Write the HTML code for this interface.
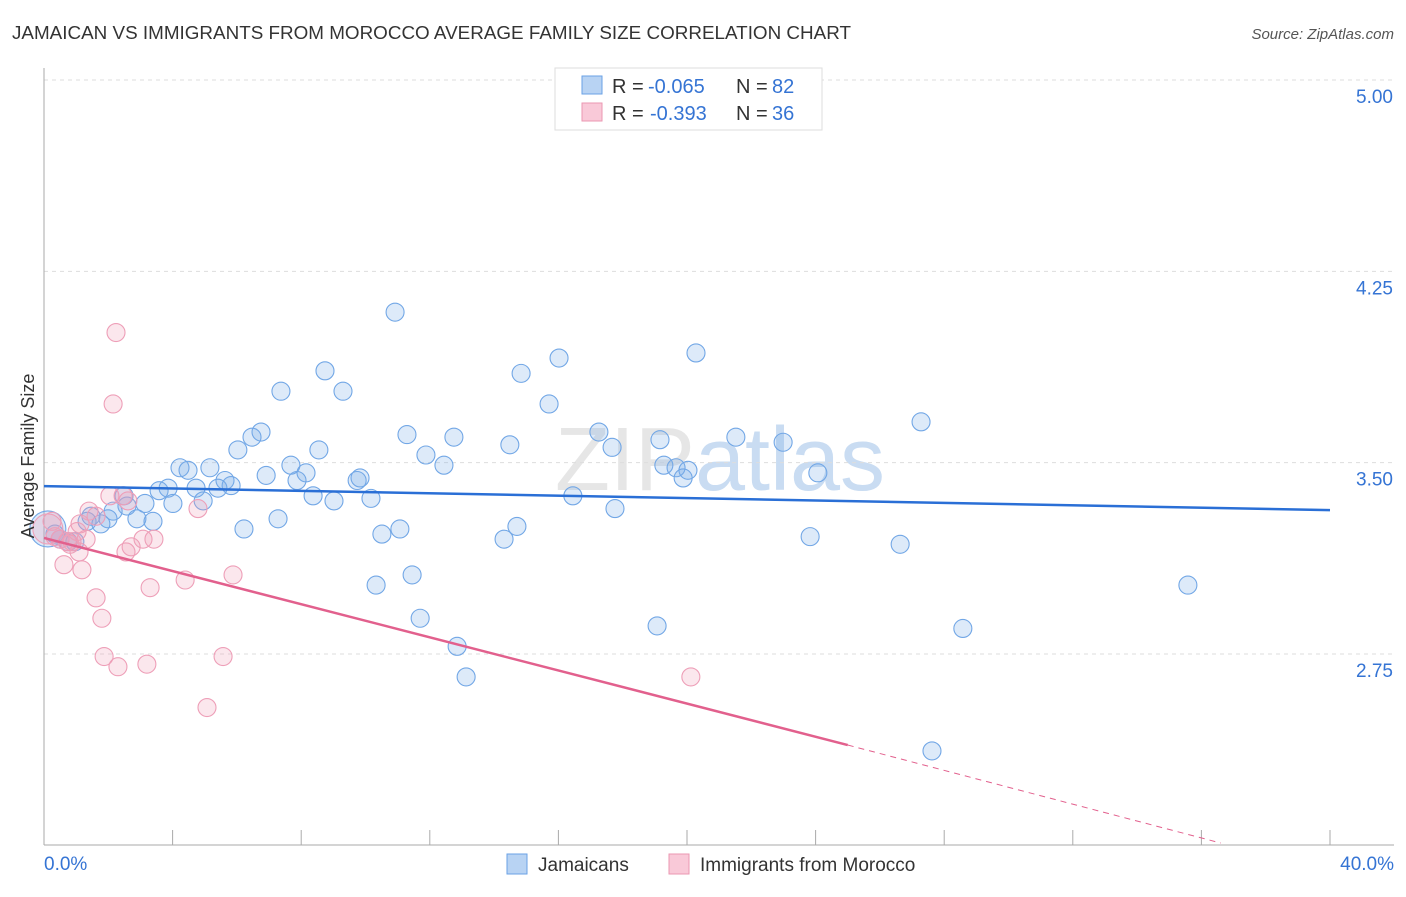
<!DOCTYPE html>
<html><head><meta charset="utf-8"><style>
body{margin:0;background:#fff;font-family:"Liberation Sans",sans-serif;}
svg text{font-family:"Liberation Sans",sans-serif;}
</style></head><body>
<svg id="chart" width="1406" height="892" xmlns="http://www.w3.org/2000/svg">
<text x="12" y="39" font-size="18" fill="#333" textLength="839" lengthAdjust="spacingAndGlyphs">JAMAICAN VS IMMIGRANTS FROM MOROCCO AVERAGE FAMILY SIZE CORRELATION CHART</text>
<text x="1394" y="39" font-size="15" fill="#555" text-anchor="end" font-style="italic">Source: ZipAtlas.com</text>
<text x="720" y="490" font-size="90" text-anchor="middle" fill="#e6e6e6" font-family="Liberation Serif">ZIP<tspan fill="#c9dcf2" font-family="Liberation Sans">atlas</tspan></text>
<g id="grid"></g><g id="axes"></g><g id="marks"></g>
<text transform="translate(34,456) rotate(-90)" font-size="18" fill="#333" text-anchor="middle">Average Family Size</text>
<g>
<rect x="555" y="68" width="267" height="62" fill="#fff" stroke="#ddd"/>
<rect x="582" y="76" width="20" height="18" fill="#b8d3f3" stroke="#6aa2e6"/>
<text x="612" y="93" font-size="20" fill="#333">R =</text>
<text x="648" y="93" font-size="20" fill="#3574d4">-0.065</text>
<text x="736" y="93" font-size="20" fill="#333">N =</text>
<text x="772" y="93" font-size="20" fill="#3574d4">82</text>
<rect x="582" y="103" width="20" height="18" fill="#f9c9d8" stroke="#eb97b2"/>
<text x="612" y="120" font-size="20" fill="#333">R =</text>
<text x="650" y="120" font-size="20" fill="#3574d4">-0.393</text>
<text x="736" y="120" font-size="20" fill="#333">N =</text>
<text x="772" y="120" font-size="20" fill="#3574d4">36</text>
</g>
<g>
<rect x="507" y="854" width="20" height="20" fill="#b8d3f3" stroke="#6aa2e6"/>
<text x="538" y="871" font-size="19" fill="#333">Jamaicans</text>
<rect x="669" y="854" width="20" height="20" fill="#f9c9d8" stroke="#eb97b2"/>
<text x="700" y="871" font-size="19" fill="#333">Immigrants from Morocco</text>
</g>
</svg>
<script>
const blueX=[10.92,8.74,9.30,7.37,14.84,16.02,20.28,15.71,27.28,6.75,6.47,6.03,8.55,11.29,12.75,14.49,17.26,17.67,19.16,21.52,22.99,11.88,12.44,4.23,4.48,5.16,7.68,8.15,6.91,5.63,5.82,7.87,9.83,9.74,19.28,19.66,20.03,19.88,24.07,3.58,3.86,4.73,5.41,8.37,9.02,10.17,16.45,2.49,3.14,4.01,4.95,2.58,2.15,1.46,1.99,2.89,3.39,7.28,17.76,1.34,1.77,6.22,10.51,11.07,14.71,14.31,23.83,26.63,0.50,0.75,0.96,10.33,11.45,35.58,11.70,19.07,28.58,12.85,13.13,27.62,0.34,0.12];
const blueY=[4.09,3.86,3.78,3.78,3.85,3.91,3.93,3.73,3.66,3.62,3.60,3.55,3.55,3.61,3.60,3.57,3.62,3.56,3.59,3.60,3.58,3.53,3.49,3.48,3.47,3.48,3.49,3.46,3.45,3.43,3.41,3.43,3.44,3.43,3.49,3.48,3.47,3.44,3.46,3.39,3.40,3.40,3.40,3.37,3.35,3.36,3.37,3.37,3.34,3.34,3.35,3.33,3.31,3.29,3.28,3.28,3.27,3.28,3.32,3.27,3.26,3.24,3.22,3.24,3.25,3.20,3.21,3.18,3.20,3.19,3.19,3.02,3.06,3.02,2.89,2.86,2.85,2.78,2.66,2.37,3.22,3.24];
const pinkX=[2.24,2.15,0.12,0.34,0.50,0.72,0.87,1.12,1.40,1.62,2.46,2.61,2.05,3.42,3.08,2.71,2.55,1.09,0.62,1.18,5.88,4.39,3.30,1.62,1.80,1.87,2.30,3.20,5.57,5.07,20.12,4.79,1.03,0.25,0.81,1.31];
const pinkY=[4.01,3.73,3.24,3.21,3.20,3.19,3.19,3.26,3.31,3.29,3.37,3.35,3.37,3.20,3.20,3.17,3.15,3.15,3.10,3.08,3.06,3.04,3.01,2.97,2.89,2.74,2.70,2.71,2.74,2.54,2.66,3.32,3.23,3.27,3.18,3.20];
const blueTrend=[[0,3.408],[40,3.314]];
const pinkTrend=[[0,3.205],[25.0,2.393]];
const pinkTrendExt=[[25.0,2.393],[36.6,2.009]];
const yTicks=[5.00,4.25,3.50,2.75];
const yTickLabels=["5.00","4.25","3.50","2.75"];
const xTicks=[0,4,8,12,16,20,24,28,32,36,40];
const xEndLabels=["0.0%","40.0%"];

const NS="http://www.w3.org/2000/svg";
const sx=v=>44+v*32.15;
const sy=v=>80+(5-v)*255.1;
function mk(tag,attrs,parent){const e=document.createElementNS(NS,tag);for(const k in attrs)e.setAttribute(k,attrs[k]);parent.appendChild(e);return e;}
const grid=document.getElementById('grid'),axes=document.getElementById('axes'),marks=document.getElementById('marks');
yTicks.forEach((t,i)=>{
  const l=mk('line',{x1:44,x2:1394,y1:sy(t),y2:sy(t),stroke:'#ddd','stroke-dasharray':'4,4'},grid);
  
  
  const tx=mk('text',{x:1393,y:sy(t)+23,'font-size':19,fill:'#3574d4','text-anchor':'end'},axes);
  tx.textContent=yTickLabels[i];
  
  
});
const ax=mk('line',{x1:44,x2:44,y1:68,y2:845,stroke:'#aaa'},axes);


const bx=mk('line',{x1:44,x2:1394,y1:845,y2:845,stroke:'#aaa'},axes);


xTicks.forEach(t=>{
  const l=mk('line',{x1:sx(t),x2:sx(t),y1:830,y2:845,stroke:'#aaa'},axes);
  
  
});
const xl0=mk('text',{x:44,y:870,'font-size':19,fill:'#3574d4'},axes);xl0.textContent=xEndLabels[0];


const xl1=mk('text',{x:1394,y:870,'font-size':19,fill:'#3574d4','text-anchor':'end'},axes);xl1.textContent=xEndLabels[1];



blueX.forEach((x,i)=>{
  const c=mk('circle',{cx:sx(x),cy:sy(blueY[i]),r:i===blueX.length-1?18:9,fill:'rgba(120,170,230,0.25)',stroke:'#72a7e6','stroke-width':1.1},marks);
  
  
});
pinkX.forEach((x,i)=>{
  const c=mk('circle',{cx:sx(x),cy:sy(pinkY[i]),r:i===2?15:9,fill:'rgba(240,160,185,0.25)',stroke:'#ee9fb8','stroke-width':1.1},marks);
  
  
});
const bl=mk('line',{x1:sx(blueTrend[0][0]),y1:sy(blueTrend[0][1]),x2:sx(blueTrend[1][0]),y2:sy(blueTrend[1][1]),stroke:'#2a6fd6','stroke-width':2.5},marks);


const pl=mk('line',{x1:sx(pinkTrend[0][0]),y1:sy(pinkTrend[0][1]),x2:sx(pinkTrend[1][0]),y2:sy(pinkTrend[1][1]),stroke:'#e2608d','stroke-width':2.5},marks);


const pd=mk('line',{x1:sx(pinkTrendExt[0][0]),y1:sy(pinkTrendExt[0][1]),x2:sx(pinkTrendExt[1][0]),y2:sy(pinkTrendExt[1][1]),stroke:'#e2608d','stroke-width':1,'stroke-dasharray':'6,5'},marks);


</script>
</body></html>
